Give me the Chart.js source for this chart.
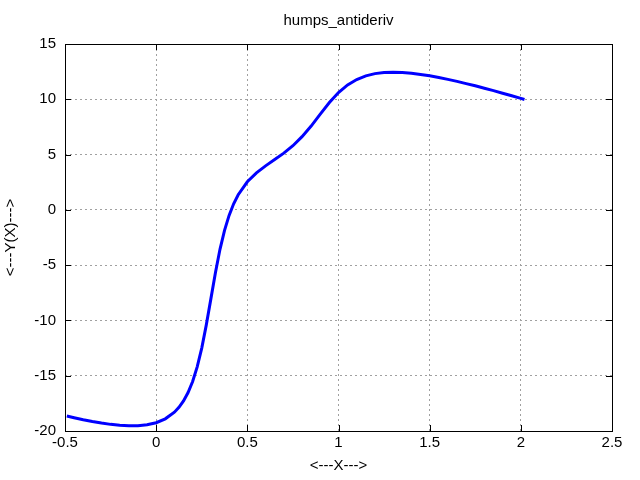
<!DOCTYPE html>
<html>
<head>
<meta charset="utf-8">
<script src="https://cdn.jsdelivr.net/npm/chart.js@4.4.0/dist/chart.umd.min.js"></script>
<style>
  html, body { margin: 0; padding: 0; background: #fff; }
</style>
</head>
<body>
<canvas id="humps" width="640" height="480"></canvas>
<script>
// values
const xs = [-0.49, -0.45, -0.4, -0.35, -0.3, -0.25, -0.2, -0.15, -0.1, -0.05,
            0, 0.05, 0.1, 0.125, 0.15, 0.175, 0.2, 0.225, 0.25, 0.275,
            0.3, 0.325, 0.35, 0.375, 0.4, 0.425, 0.45, 0.5, 0.55, 0.6,
            0.65, 0.7, 0.75, 0.8, 0.85, 0.9, 0.95, 1.0, 1.05, 1.1,
            1.15, 1.2, 1.25, 1.3, 1.35, 1.4, 1.45, 1.5, 1.55, 1.6,
            1.65, 1.7, 1.75, 1.8, 1.85, 1.9, 1.95, 2.0, 2.02];
const ys = [-18.65, -18.80, -18.98, -19.14, -19.28, -19.40, -19.49, -19.53, -19.52, -19.44,
            -19.25, -18.90, -18.30, -17.86, -17.28, -16.52, -15.52, -14.20, -12.50, -10.40,
            -8.05, -5.68, -3.57, -1.85, -0.50, 0.55, 1.37, 2.54, 3.34, 3.98,
            4.55, 5.13, 5.80, 6.62, 7.58, 8.66, 9.71, 10.61, 11.30, 11.79,
            12.12, 12.32, 12.42, 12.45, 12.42, 12.35, 12.25, 12.12, 11.97, 11.80,
            11.62, 11.42, 11.22, 11.00, 10.78, 10.55, 10.32, 10.08, 9.98];

const xMin = -0.5, xMax = 2.5, xStep = 0.5;
const yMin = -20, yMax = 15, yStep = 5;
const chartTitle = "humps_antideriv";

const FONT = "'Liberation Sans', Arial, sans-serif";

// gnuplot style frame with inward ticks, title centred over the plot area
const framePlugin = {
  id: "frame",
  afterDatasetsDraw(chart) {
    const { ctx, chartArea: a, scales } = chart;
    ctx.save();
    ctx.strokeStyle = "#000";
    ctx.lineWidth = 1;
    ctx.beginPath();
    scales.x.ticks.forEach((t, i) => {
      const px = Math.round(scales.x.getPixelForTick(i)) + 0.5;
      ctx.moveTo(px, a.bottom); ctx.lineTo(px, a.bottom - 6);
      ctx.moveTo(px, a.top); ctx.lineTo(px, a.top + 6);
    });
    scales.y.ticks.forEach((t, i) => {
      const py = Math.round(scales.y.getPixelForTick(i)) + 0.5;
      ctx.moveTo(a.left, py); ctx.lineTo(a.left + 6, py);
      ctx.moveTo(a.right, py); ctx.lineTo(a.right - 6, py);
    });
    ctx.stroke();
    ctx.strokeRect(Math.round(a.left) + 0.5, Math.round(a.top) + 0.5,
                   Math.round(a.right - a.left), Math.round(a.bottom - a.top));

    ctx.fillStyle = "#000";
    ctx.font = "15px " + FONT;
    ctx.textAlign = "center";
    ctx.textBaseline = "middle";
    ctx.fillText(chartTitle, (a.left + a.right) / 2, 21);
    ctx.restore();
  }
};

new Chart(document.getElementById("humps"), {
  type: "scatter",
  data: {
    datasets: [{
      data: xs.map((x, i) => ({ x: x, y: ys[i] })),
      showLine: true,
      borderColor: "#0000ff",
      borderWidth: 3,
      pointRadius: 0,
      tension: 0
    }]
  },
  options: {
    responsive: false,
    animation: false,
    devicePixelRatio: 1,
    layout: { padding: { top: 44, right: 28, bottom: 0, left: 2 } },
    plugins: {
      legend: { display: false },
      tooltip: { enabled: false },
      title: { display: false }
    },
    scales: {
      x: {
        type: "linear",
        min: xMin, max: xMax,
        afterFit: s => { s.height = 49; },
        ticks: {
          stepSize: xStep, color: "#000", padding: 3,
          font: { family: FONT, size: 15 },
          callback: v => String(Math.round(v * 10) / 10)
        },
        grid: { color: "#a0a0a0", tickLength: 0, lineWidth: 1 },
        border: { display: false, dash: [2, 3] },
        title: {
          display: true, text: "<---X--->", color: "#000",
          font: { family: FONT, size: 15 },
          padding: { top: 0, bottom: 5 }
        }
      },
      y: {
        type: "linear",
        min: yMin, max: yMax,
        afterFit: s => { s.width = 63; },
        ticks: {
          stepSize: yStep, color: "#000", padding: 9,
          font: { family: FONT, size: 15 }
        },
        grid: { color: "#a0a0a0", tickLength: 0, lineWidth: 1 },
        border: { display: false, dash: [2, 3] },
        title: {
          display: true, text: "<---Y(X)--->", color: "#000",
          font: { family: FONT, size: 15 },
          padding: { top: 0, bottom: 0 }
        }
      }
    }
  },
  plugins: [framePlugin]
});
</script>
</body>
</html>
